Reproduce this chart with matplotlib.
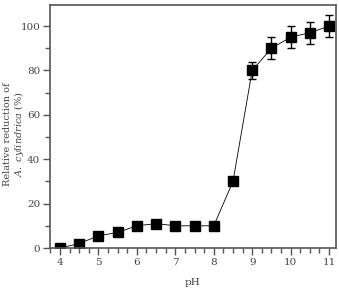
import matplotlib
matplotlib.use("Agg")
import matplotlib.pyplot as plt
from matplotlib.ticker import MultipleLocator

ph = [4, 4.5, 5, 5.5, 6, 6.5, 7, 7.5, 8, 8.5, 9, 9.5, 10, 10.5, 11]
reduction = [0, 2, 5.5, 7, 10, 11, 10, 10, 10, 30, 80, 90, 95, 97, 100]
err = [0, 0, 0, 0, 0, 0, 0, 0, 0, 0, 4, 5, 5, 5, 5]

plt.rcParams["font.family"] = ["DejaVu Serif"]
plt.rcParams["mathtext.fontset"] = "dejavuserif"
plt.rcParams["font.size"] = 7.5
gray = "#555555"
txt = "#444444"

fig = plt.figure(figsize=(3.39, 2.89), dpi=100)
ax = fig.add_axes([50 / 339, 41 / 289, 286 / 339, 243 / 289])

ax.errorbar(ph, reduction, yerr=err, fmt="-s", color="black", lw=0.6,
            ms=6.5, mfc="black", mec="black", elinewidth=1.0, capsize=3, capthick=1.0)

ax.set_xlim(3.74, 11.18)
ax.set_ylim(0, 109.5)
ax.xaxis.set_major_locator(MultipleLocator(1))
ax.xaxis.set_minor_locator(MultipleLocator(0.25))
ax.yaxis.set_major_locator(MultipleLocator(20))
ax.yaxis.set_minor_locator(MultipleLocator(10))
ax.tick_params(which="both", direction="out", colors=gray, labelcolor=txt, pad=2)
ax.tick_params(which="major", length=5, width=1)
ax.tick_params(which="minor", length=3.5, width=1)
for s in ax.spines.values():
    s.set_color(gray)
    s.set_linewidth(1.2)

ax.set_xlabel("pH", color=txt, labelpad=8)
# y label: two lines, second with italic species name
fig.text(8 / 339, 1 - 134 / 289, "Relative reduction of", rotation=90,
         ha="center", va="center", color=txt, fontsize=7)
fig.text(19 / 339, 1 - 134 / 289, "$\\mathit{A.\\ cylindrica}$ (%)", rotation=90,
         ha="center", va="center", color=txt, fontsize=7)

fig.savefig("out.png", dpi=100)
